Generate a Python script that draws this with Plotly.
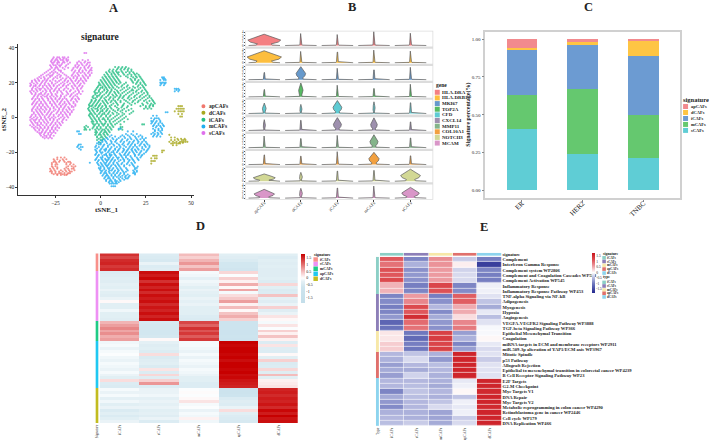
import plotly.graph_objects as go

W, H = 709, 440
SERIF = "Liberation Serif"
INK = "#222222"

# ---------- A: tSNE embedding, stored as {tSNE_2: [tSNE_1, ...]} rows per cluster ----------
AP_ROWS = {
    -23: [-24, -22, -20], -24: [-26, -24, -21, -19], -25.5: [-26, -25, -23, -20, -18, -17],
    -27: [-27, -25, -24, -19, -17, -15], -28: [-27, -25, -18, -16, -14], -29.5: [-28, -26, -24, -20, -18, -16, -15],
    -31: [-28, -27, -25, -23, -21, -19, -17, -16], -32: [-27, -25, -23, -22, -20, -18, -17], -33: [-24, -22, -20, -19],
    -24.7: [-25.5, -22.5, -20.5], -26.2: [-27, -24.5, -19, -16.5], -28.7: [-26.5, -24, -19, -15],
    -30.3: [-27.5, -25.5, -22, -19.5, -17.5, -14.5], -32.6: [-26, -24, -21, -18.5],
}
D_ROWS = {
    6.5: [43, 44, 45], 5: [42, 43, 44, 45, 46], 3.5: [41, 43, 44, 45, 46], 2: [43, 45], 0.5: [44, 45],
    -10: [38], -11.5: [39, 41], -13: [39, 41, 43, 45, 46, 47], -14: [38, 40, 42, 44, 45, 46, 47, 48],
    -15: [39, 40, 42, 43, 44], -16: [40, 42], -12.3: [42.5, 44.5, 46.5], -14.6: [41, 43.5, 45.5],
    -19: [34, 35], -20: [34], -22: [29, 30, 31], -23.5: [28, 30, 31], -25: [28, 29, 30], -26.5: [28],
}
I_ROWS = {
    29: [8, 10, 12, 14], 27.5: [5, 7, 9, 11, 13, 15, 17], 26: [3, 5, 7, 9, 10, 12, 14, 16, 18],
    24.5: [2, 4, 6, 8, 10, 13, 15, 17, 19, 21], 23: [1, 3, 5, 7, 9, 15, 18, 20, 22],
    21.5: [0, 2, 4, 6, 8, 10, 17, 19, 21, 23], 20: [-1, 1, 3, 5, 7, 9, 11, 14, 18, 20, 22, 24],
    18.5: [-1, 0, 2, 4, 6, 8, 12, 15, 21, 23, 25], 17: [-2, 0, 1, 3, 5, 7, 10, 13, 16, 19, 22, 24],
    15.5: [-3, -1, 2, 4, 6, 9, 11, 14, 17, 18, 20, 23, 25], 14: [-3, -2, 0, 3, 5, 8, 10, 12, 15, 18, 21, 24, 26],
    12.5: [-4, -2, -1, 1, 4, 7, 9, 11, 13, 16, 19, 22, 25, 27], 11: [-4, -3, 0, 2, 5, 7, 10, 12, 15, 17, 20, 23, 26, 28],
    9.5: [-5, -3, -1, 1, 3, 6, 8, 11, 14, 18, 21, 24, 27, 29], 8: [-6, -4, -2, 0, 2, 4, 7, 9, 13, 16, 19, 23, 26, 28, 30],
    6.5: [-6, -5, -3, -1, 1, 3, 5, 8, 12, 15, 22, 25, 27, 29], 5: [-7, -5, -3, -2, 0, 2, 4, 6, 10, 13, 17, 24, 26, 28],
    3.5: [-6, -4, -2, 0, 1, 3, 5, 8, 11, 14, 18],
    2: [-6, -5, -3, -1, 1, 2, 4, 7, 10, 13, 16], 0.5: [-6, -4, -2, 0, 3, 5, 8, 11, 14],
    -1: [-5, -3, -1, 1, 2, 4, 6, 9, 12, 15], -2.5: [-5, -4, -2, 0, 3, 5, 7, 10, 13], -4: [-4, -3, -1, 1, 2, 4, 6, 8, 11, 23, 24],
    -5.5: [-9, -7, -4, -2, 0, 3, 5, 7, 11, 12], -7: [-9, -8, -6, -3, -1, 1, 2, 4, 6, 10, 12], -8.5: [-3, -2, 0, 2, 3, 5],
    -10: [-3, -1, 0, 2, 4], -11.5: [-2, 0, 1, 3], -13: [-2, 0, 1], -14.5: [-1, 0],
}
I_ROWS_FILL = {
    28.2: [9.5, 11.5, 13.5, 15.5], 26.7: [4.5, 6.5, 8.5, 11.5, 15, 17], 25.2: [3.5, 6, 7.5, 9.5, 12.5, 16, 18.5, 20],
    23.7: [2.5, 4.5, 6.5, 8.5, 11, 14, 17, 19.5, 21.5], 22.2: [1.5, 3.5, 5.5, 7.5, 9.5, 16.5, 19, 22.5],
    20.7: [0.5, 2.5, 4.5, 6.5, 8.5, 10.5, 17.5, 20.5, 23.5], 19.2: [-0.5, 1.5, 3.5, 5.5, 7.5, 10, 13, 19.5, 22, 24.5],
    17.7: [-1.5, 1, 2.5, 4.5, 6.5, 9, 11.5, 14.5, 18, 20.5, 23.5], 16.2: [-2.5, -0.5, 2, 3.5, 6, 8, 12, 15, 17.5, 21, 24.5],
    14.7: [-3.5, -1, 1, 3.5, 5.5, 7.5, 9.5, 13, 16, 19.5, 22.5, 25.5], 13.2: [-3, -0.5, 2, 4.5, 6.5, 8.5, 11, 14, 17, 20, 23, 26],
    11.7: [-4.5, -2, 0.5, 3, 5.5, 8, 10.5, 12.5, 15.5, 18.5, 21.5, 24, 27], 10.2: [-5, -2.5, -0.5, 2.5, 4.5, 7, 9.5, 13, 16, 19, 22, 25, 28.5],
    8.7: [-5.5, -3.5, -1.5, 1.5, 3.5, 5.5, 8.5, 11, 15, 17.5, 20.5, 25.5, 29.5], 7.2: [-6.5, -4.5, -2.5, -0.5, 2.5, 6, 9.5, 12.5, 17, 23.5, 27.5, 29],
    5.7: [-6.5, -4, -1.5, 0.5, 3, 5.5, 9, 11.5, 14.5, 25, 27], 4.2: [-6.5, -4.5, -1.5, 1, 3.5, 7, 9.5, 12, 15.5],
    2.7: [-5.5, -3.5, -0.5, 2, 4.5, 6.5, 9, 12, 17], 1.2: [-6.5, -4.5, -2, 0.5, 3, 5.5, 9, 12],
    -0.3: [-5.5, -3.5, -1, 1.5, 4, 7, 10, 13], -1.8: [-4.5, -2.5, -0.5, 2.5, 5, 8, 11], -3.3: [-4.5, -2, 0.5, 2.5, 5.5, 9],
    -4.8: [-8, -3.5, -1, 1.5, 4, 6.5], -6.3: [-8.5, -4.5, -2, 0, 3, 5.5, 11], -7.8: [-2.5, 0.5, 2.5, 4.5],
    -9.3: [-2.5, -0.5, 1.5, 3.5], -10.8: [-2, 0.5, 2.5], -12.3: [-1, 1.5],
}
M_ROWS = {
    23: [34, 35], 21.5: [33, 35, 36], 20: [33, 34, 35, 36], 18.5: [33, 35], 16.5: [41, 42, 43], 15: [41, 43],
    3: [36, 37], 1: [29, 31], -0.5: [28, 30, 31, 32], -2: [28, 29, 31, 33], -3.5: [28, 30, 32, 34], -5: [29, 31, 33, 35],
    -6.5: [10, 11, 29, 32, 34], -8: [-13, -12, 15, 18, 30, 33], -9.5: [-12, -11, 14, 17, 20, 28, 30, 32, 34],
    -11: [5, 8, 11, 13, 16, 19, 21, 23, 29, 31, 33], -12.5: [2, 4, 7, 9, 12, 15, 17, 20, 22, 24],
    -14: [-1, 1, 3, 6, 8, 11, 13, 16, 18, 21, 23, 25], -15.5: [-12, -11, -1, 0, 2, 5, 7, 10, 12, 15, 17, 19, 22, 24, 26],
    -17: [-13, -11, -10, -3, -1, 1, 4, 6, 9, 11, 14, 16, 18, 20, 23, 25, 27], -18.5: [-11, -3, 0, 2, 3, 5, 8, 10, 13, 15, 17, 19, 21, 24, 26],
    -20: [-2, 0, 1, 4, 6, 7, 9, 12, 14, 16, 18, 20, 22, 25], -21.5: [-3, -1, 2, 3, 5, 6, 8, 11, 13, 15, 19, 21, 23],
    -23: [-2, 0, 1, 4, 5, 7, 9, 10, 12, 14, 17, 20, 22], -24.5: [-3, -1, 1, 3, 4, 6, 8, 11, 13, 16, 18, 21],
    -26: [-6, -2, 0, 2, 3, 5, 7, 9, 12, 15, 17, 19], -27.5: [-1, 1, 3, 4, 6, 8, 10, 13, 16, 18], -29: [-1, 0, 2, 4, 5, 7, 9, 11, 14, 19, 20],
    -30.5: [0, 1, 3, 5, 6, 8, 10, 12, 15, 18, 20], -32: [0, 2, 3, 5, 7, 9, 11, 13, 18, 19], -33.5: [1, 3, 4, 6, 8, 10, 12, 14, 16],
    -35: [2, 4, 5, 7, 10, 12, 14, 15], -36.5: [3, 5, 6, 8, 9, 11], -38: [5, 6, 7, 8, 9], -39.5: [6, 7, 8],
}
M_ROWS_FILL = {
    22.2: [34.5, 35.5], 19.3: [33.5, 35.5], 15.8: [42, 43.5], -1.2: [29.5, 32.5], -2.8: [28.5, 30.5, 33],
    -4.3: [29.5, 32, 34.5], -5.8: [30.5, 33.5], -7.3: [30, 32, 34], -8.8: [29, 31.5, 33.5], -10.2: [6, 12, 15, 18, 22, 29.5, 31.5],
    -11.8: [3.5, 6.5, 10, 13.5, 16.5, 19.5, 23, 25], -13.3: [0.5, 2.5, 5.5, 8.5, 11.5, 14.5, 18.5, 20.5, 24],
    -14.8: [-2, 0, 3.5, 6, 9, 12.5, 15.5, 17.5, 20.5, 22.5, 25.5], -16.2: [-12.5, -2.5, 1.5, 4, 7.5, 10.5, 13, 16.5, 19, 21.5, 24.5, 27],
    -17.8: [-12, -2, 0.5, 3, 5.5, 8, 10.5, 12.5, 15.5, 17.5, 20.5, 23, 26.5], -19.2: [-2.5, -0.5, 2.5, 4.5, 7, 9.5, 12.5, 14.5, 17.5, 19.5, 22.5, 25.5],
    -20.8: [-2.5, 0.5, 3, 5, 7.5, 10.5, 13.5, 15.5, 18.5, 21.5, 24],
    -22.2: [-1.5, 1, 3.5, 5.5, 8.5, 11.5, 14, 16.5, 19, 22.5], -23.8: [-2.5, 0.5, 2.5, 4.5, 6.5, 9.5, 12.5, 15, 17.5, 20.5],
    -25.2: [-1.5, 1.5, 3.5, 5.5, 7.5, 10, 13, 15.5, 18.5], -26.8: [-1.5, 0.5, 2.5, 4.5, 7, 9.5, 11.5, 14.5, 17.5],
    -28.2: [0, 1.5, 3.5, 5.5, 8.5, 10.5, 13, 18.5, 20.5], -29.8: [-0.5, 2, 4.5, 6.5, 9.5, 11.5, 14.5, 19],
    -31.2: [0.5, 2.5, 4.5, 7.5, 9.5, 12.5, 14, 18.5, 20], -32.8: [1.5, 3.5, 6, 8, 10.5, 13, 15, 19],
    -34.2: [2.5, 4.5, 7, 9, 11, 13.5, 15.5], -35.8: [3, 5.5, 8, 10.5, 13], -37.2: [4.5, 6.5, 8.5, 10],
}
S_ROWS = {
    37: [-9, -8], 34.5: [-26, -24, -23, -21, -20, -18], 33: [-27, -25, -24, -22, -21, -19, -18, -10, -7],
    31.5: [-27, -26, -24, -23, -21, -20, -17, -13, -11, -9, -7, -6], 30: [-28, -26, -25, -23, -22, -19, -14, -12, -10, -8, -6],
    28.5: [-27, -25, -24, -21, -18, -15, -13, -11, -9, -7, -5], 27: [-29, -26, -23, -22, -16, -14, -12, -10, -8, -6, -5],
    25.5: [-31, -28, -26, -24, -21, -15, -13, -11, -9, -7, -5], 24: [-33, -30, -28, -27, -24, -22, -19, -16, -14, -12, -10, -8, -6],
    22.5: [-35, -33, -31, -29, -26, -24, -21, -19, -17, -15, -13, -11, -9, -7],
    21: [-38, -36, -34, -32, -30, -28, -25, -23, -20, -18, -16, -14, -12, -10, -8],
    19.5: [-39, -37, -35, -33, -31, -29, -27, -25, -22, -20, -17, -15, -13, -11, -9],
    18: [-39, -37, -36, -34, -32, -30, -28, -26, -24, -21, -19, -16, -14, -12, -10],
    16.5: [-38, -36, -34, -33, -31, -29, -27, -25, -23, -20, -18, -15, -13, -11],
    15: [-39, -37, -35, -32, -30, -28, -26, -24, -22, -19, -17, -14, -12, -10],
    13.5: [-38, -36, -34, -33, -31, -29, -27, -25, -21, -18, -16, -13, -11],
    12: [-37, -35, -33, -31, -30, -28, -26, -24, -22, -20, -17, -15, -13],
    10.5: [-38, -36, -34, -32, -29, -27, -25, -23, -21, -19, -16, -14, -12],
    9: [-37, -35, -33, -31, -28, -26, -24, -22, -20, -18, -15, -13],
    7.5: [-38, -36, -34, -32, -30, -27, -25, -23, -21, -19, -17, -14],
    6: [-37, -35, -33, -31, -29, -26, -24, -22, -20, -18, -16, -15],
    4.5: [-38, -36, -34, -32, -30, -28, -25, -23, -21, -19, -17, -15],
    3: [-37, -35, -33, -31, -29, -27, -24, -22, -20, -18, -16],
    1.5: [-38, -36, -34, -32, -30, -28, -26, -23, -21, -19, -17],
    0: [-39, -37, -35, -33, -31, -29, -27, -25, -22, -20, -18],
    -1.5: [-39, -37, -36, -34, -32, -30, -28, -26, -24, -21, -19],
    -3: [-38, -36, -35, -33, -31, -29, -27, -25, -23, -21],
    -4.5: [-39, -37, -35, -34, -32, -30, -28, -26, -24, -22],
    -6: [-37, -35, -33, -31, -29, -27, -25, -23],
    -7.5: [-36, -34, -32, -30, -28, -26, -24],
    -9: [-34, -33, -31, -29, -27, -25], -10.5: [-33, -31, -30, -28, -26], -12: [-31, -29, -27],
}
S_ROWS_FILL = {
    33.7: [-26.5, -24.5, -22.5, -20.5, -19], 32.2: [-27.5, -25.5, -23.5, -20.5, -18.5, -12, -8.5], 30.7: [-26.5, -24, -21.5, -18, -13, -10.5, -7.5],
    29.2: [-27.5, -24.5, -22.5, -19.5, -14, -12.5, -9, -6.5], 27.7: [-28, -25.5, -23.5, -20, -15.5, -11.5, -8.5, -5.5], 26.2: [-30, -27, -25, -22, -14.5, -12, -10, -6.5],
    24.7: [-32, -29, -26.5, -23, -20, -15.5, -12.5, -8.5, -6], 23.2: [-34, -31.5, -28, -25, -22.5, -18, -15, -13, -9.5, -7],
    21.7: [-36.5, -34.5, -31, -29.5, -26.5, -22, -19.5, -16.5, -13.5, -11, -8.5], 20.2: [-38, -35.5, -32.5, -30.5, -27, -24, -21, -18.5, -15.5, -12.5, -9.5],
    18.7: [-38.5, -36, -33.5, -31, -28.5, -26, -23, -20.5, -18, -14.5, -11.5], 17.2: [-37.5, -35, -32, -29.5, -27.5, -24.5, -22, -19, -15.5, -13, -10.5],
    15.7: [-38, -35.5, -33.5, -30.5, -28, -25.5, -23, -20.5, -16.5, -12.5], 14.2: [-38.5, -36, -33, -30.5, -27.5, -24, -21.5, -18.5, -15, -12],
    12.7: [-36.5, -34.5, -32, -29.5, -27, -24.5, -22, -19, -16.5, -14], 11.2: [-37.5, -35, -32.5, -29.5, -27.5, -25, -22.5, -20, -15.5, -12.5],
    9.7: [-36.5, -34, -31.5, -29, -26.5, -24, -21.5, -18.5, -16.5, -13.5], 8.2: [-37.5, -35.5, -33, -30.5, -28, -25.5, -22.5, -20, -17.5, -15],
    6.7: [-36.5, -34, -32, -29.5, -27, -24.5, -22, -19.5, -16, -14], 5.2: [-37.5, -35, -33, -30.5, -28, -26, -23, -20.5, -17.5],
    3.7: [-38, -35.5, -33.5, -31, -28.5, -26, -23.5, -21, -18.5, -16], 2.2: [-37, -34.5, -32.5, -29.5, -27.5, -24.5, -22, -19.5, -17],
    0.7: [-38.5, -36, -33.5, -31, -28.5, -26, -23.5, -21, -18.5], -0.8: [-38, -35.5, -33, -30.5, -28, -26, -23, -20.5],
    -2.3: [-38.5, -36.5, -34, -31.5, -29.5, -26.5, -24, -21.5], -3.8: [-37.5, -35, -33, -30, -27.5, -25, -22.5],
    -5.3: [-38, -36, -33.5, -31, -29, -26.5, -24], -6.8: [-36.5, -34, -32, -29.5, -27, -25], -8.3: [-35, -32.5, -30.5, -28, -26],
    -9.8: [-33.5, -31.5, -29, -27.5], -11.3: [-32, -30, -28],
}
CLUSTERS = ["apCAFs", "dCAFs", "iCAFs", "mCAFs", "sCAFs"]
CLUSTER_ROWS = [[AP_ROWS], [D_ROWS], [I_ROWS, I_ROWS_FILL], [M_ROWS, M_ROWS_FILL], [S_ROWS, S_ROWS_FILL]]
CLUSTER_COLORS = ["#F0786E", "#A8A81E", "#25BE84", "#22AEF0", "#DF70EC"]

# ---------- B: stacked violins, height and body half-width for each gene and cluster ----------
GENES = ["HLA-DRA", "HLA-DRB1", "MKI67", "TOP2A", "CFD", "CXCL14", "MMP11", "COL10A1", "NOTCH3", "MCAM"]
GENE_COLORS = ["#F47F82", "#FDBE3E", "#6699CC", "#57BB63", "#5FCBD3", "#9E90AE", "#84B48A", "#F2A03F", "#D2D895", "#D996C8"]
HLA_DRA_H, HLA_DRA_W = [3.4, 3.6, 3.3, 4.2, 3.7], [0.45, 0, 0, 0, 0]
HLA_DRB1_H, HLA_DRB1_W = [3.6, 3.4, 3.2, 3.8, 3.5], [0.47, 0, 0, 0, 0]
MKI67_H, MKI67_W = [2.2, 4.0, 3.5, 3.0, 3.8], [0, 0.13, 0, 0, 0]
TOP2A_H, TOP2A_W = [2.2, 4.2, 3.5, 2.5, 3.8], [0, 0.06, 0, 0, 0]
CFD_H, CFD_W = [3.2, 2.8, 4.0, 3.6, 3.3], [0.05, 0.03, 0.12, 0.03, 0]
CXCL14_H, CXCL14_W = [3.4, 3.2, 4.1, 4.0, 2.7], [0.03, 0, 0.11, 0.09, 0]
MMP11_H, MMP11_W = [3.6, 2.8, 3.8, 4.0, 3.0], [0, 0, 0, 0.11, 0]
COL10A1_H, COL10A1_W = [3.0, 2.6, 4.0, 3.8, 2.7], [0, 0, 0, 0.14, 0]
NOTCH3_H, NOTCH3_W = [2.3, 2.8, 3.2, 3.4, 3.8], [0.30, 0.04, 0, 0, 0.27]
MCAM_H, MCAM_W = [2.7, 3.0, 3.1, 3.7, 3.3], [0.28, 0.04, 0, 0, 0.24]
VIOLIN_H = [HLA_DRA_H, HLA_DRB1_H, MKI67_H, TOP2A_H, CFD_H, CXCL14_H, MMP11_H, COL10A1_H, NOTCH3_H, MCAM_H]
VIOLIN_W = [HLA_DRA_W, HLA_DRB1_W, MKI67_W, TOP2A_W, CFD_W, CXCL14_W, MMP11_W, COL10A1_W, NOTCH3_W, MCAM_W]
BODY_LEVELS = [0.04, 0.14, 0.3, 0.48, 0.7, 0.9, 1.0]
BODY_WIDTHS = [0.5, 0.42, 0.85, 1.0, 0.62, 0.2, 0.01]
SPIKE_LEVELS = [0.03, 0.1, 1.0]
SPIKE_WIDTHS = [0.04, 0.025, 0.006]
BASE_HALF_WIDTH = 0.43

# ---------- C: composition per subtype ----------
SUBTYPES = ["ER", "HER2", "TNBC"]
SIGNATURE_COLORS = ["#F28A8E", "#FEC544", "#6C9BD2", "#65C86F", "#5FCDD5"]
SHARE_S = [0.403, 0.243, 0.217]
SHARE_M = [0.229, 0.430, 0.283]
SHARE_I = [0.293, 0.290, 0.386]
SHARE_D = [0.014, 0.019, 0.105]
SHARE_AP = [0.061, 0.018, 0.009]

# ---------- D: marker heatmap, one block of rows per signature ----------
D_COLUMNS = ["iCAFs", "sCAFs", "mCAFs", "apCAFs", "dCAFs"]
D_BLOCKS = ["iCAFs", "sCAFs", "mCAFs", "apCAFs", "dCAFs"]
D_BLOCK_COLORS = ["#F8908A", "#EE90F4", "#1FCB86", "#20C8F2", "#C2BC20"]
D_VALUES_I = [
    [1.45, -0.4, 0.5, -0.3, -0.3], [1.3, -0.45, 0.35, -0.35, -0.4], [1.5, -0.5, 0.55, -0.45, -0.3],
    [1.55, -0.2, 0.75, -0.6, -0.35], [1.4, -0.4, 0.45, -0.6, -0.3], [1.5, -0.35, 0.7, -0.65, -0.35],
]
D_VALUES_S = [
    [-0.4, 1.7, -0.1, 0.3, -0.35], [-0.35, 1.6, -0.15, -0.05, -0.35], [-0.3, 1.75, -0.25, 0.35, -0.3],
    [-0.35, 1.45, -0.15, 0.1, -0.4], [-0.25, 1.7, -0.2, 0.6, 0.3], [-0.3, 1.55, -0.3, 0.05, -0.3],
    [-0.2, 1.7, -0.2, 0.65, -0.45], [-0.3, 1.5, -0.25, -0.1, -0.4], [-0.35, 1.7, -0.3, 0.25, 0.45],
    [-0.2, 1.6, -0.2, 0.4, -0.25], [0.05, 1.7, -0.25, 0.7, -0.35], [-0.3, 1.5, -0.2, 0.1, -0.2],
    [-0.3, 1.65, -0.3, 0.5, 0.35], [-0.15, 1.55, -0.3, 0.05, -0.35], [-0.3, 1.7, -0.3, 0.45, -0.2],
    [-0.3, 1.55, -0.4, 0.6, 0.2], [-0.35, 1.7, -0.45, 0.35, 0.05],
]
D_VALUES_M = [
    [0.55, -0.5, 1.3, -0.7, -0.1], [0.7, -0.55, 1.1, -0.75, 0.2], [0.85, -0.55, 1.45, -0.75, -0.05],
    [0.65, -0.6, 1.2, -0.8, 0.35], [0.8, -0.6, 1.4, -0.8, 0.1], [0.6, -0.55, 1.15, -0.75, 0.45],
    [0.7, 0.05, 1.4, -0.8, 0.1],
]
D_VALUES_AP = [
    [-0.15, -0.25, -0.1, 1.8, -0.4], [-0.1, -0.35, -0.1, 1.75, 0.2], [-0.2, -0.3, -0.15, 1.8, -0.35],
    [-0.1, -0.4, -0.2, 1.8, -0.4], [-0.05, 0.25, -0.1, 1.75, 0.05], [-0.15, -0.45, -0.2, 1.8, -0.3],
    [-0.2, -0.35, -0.1, 1.7, 0.35], [-0.1, -0.3, -0.15, 1.8, -0.45], [-0.15, -0.45, -0.2, 1.8, -0.4],
    [-0.2, 0.2, -0.1, 1.75, 0.3], [-0.1, -0.4, -0.15, 1.8, -0.35], [-0.2, 0.3, -0.2, 1.7, 0.5],
    [-0.3, -0.35, -0.3, 1.75, -0.3], [0.25, 0.35, -0.3, 1.65, 0.1], [-0.4, 0.75, -0.4, 1.6, 0.15],
    [-0.45, -0.4, -0.4, 1.55, 0.2],
]
D_VALUES_D = [
    [-0.1, -0.2, -0.05, -0.8, 1.55], [-0.2, -0.2, 0.0, -0.85, 1.6], [-0.1, -0.15, -0.05, -0.75, 1.5],
    [-0.25, -0.25, 0.05, -0.45, 1.6], [-0.15, -0.2, 0.2, -0.35, 1.55], [-0.3, -0.25, -0.1, -0.4, 1.65],
    [-0.2, -0.2, -0.05, -0.2, 1.5], [-0.45, -0.3, -0.2, 0.25, 1.75], [-0.3, -0.25, -0.1, -0.3, 1.6],
    [-0.45, -0.35, -0.15, -0.4, 1.8], [-0.3, -0.2, 0.1, -0.45, 1.65], [-0.2, -0.4, -0.15, -0.5, 1.7],
]
D_BLOCK_VALUES = [D_VALUES_I, D_VALUES_S, D_VALUES_M, D_VALUES_AP, D_VALUES_D]

# ---------- E: pathway scores ----------
E_COLUMNS = ["iCAFs", "sCAFs", "mCAFs", "apCAFs", "dCAFs"]
E_COLORS = ["#8CCFC6", "#8D7FB8", "#F7E8A8", "#E0706C", "#8DD4EE"]
E_PATHWAYS = [
    "Complement", "Interferon Gamma Response", "Complement system WP2806",
    "Complement and Coagulation Cascades WP558", "Complement Activation WP545", "Inflammatory Response",
    "Inflammatory Response Pathway WP453", "TNF-alpha Signaling via NF-kB", "Adipogenesis", "Myogenesis",
    "Hypoxia", "Angiogenesis", "VEGFA-VEGFR2 Signaling Pathway WP3888", "TGF-beta Signaling Pathway WP366",
    "Epithelial Mesenchymal Transition", "Coagulation", "miRNA targets in ECM and membrane receptors WP2911",
    "miR-509-3p alteration of YAP1/ECM axis WP3967", "Mitotic Spindle", "p53 Pathway", "Allograft Rejection",
    "Epithelial to mesenchymal transition in colorectal cancer WP4239", "B Cell Receptor Signaling Pathway WP23",
    "E2F Targets", "G2-M Checkpoint", "Myc Targets V1", "DNA Repair", "Myc Targets V2",
    "Metabolic reprogramming in colon cancer WP4290", "Retinoblastoma gene in cancer WP2446",
    "Cell cycle WP179", "DNA Replication WP466",
]
E_ROW_GROUP = [0] * 7 + [1] * 7 + [2] * 4 + [3] * 5 + [4] * 9
E_VALUES = [
    [1.1, -0.9, 0.7, -0.35, -0.95], [0.9, -0.55, 0.65, 0.1, -1.6], [1.15, -0.8, 0.6, -0.3, -0.9],
    [1.1, -0.75, 0.6, -0.25, -0.95], [1.2, -0.8, 0.6, -0.25, -0.95], [0.45, -0.95, 1.25, -0.9, -0.1],
    [0.45, -0.9, 1.15, -0.85, -0.1], [-0.9, 0.6, -0.95, 1.05, -0.2], [-0.85, 0.75, -0.8, 1.05, -0.4],
    [-0.95, 1.2, -0.5, 0.5, -0.6], [-0.9, 1.1, -0.85, 0.5, -0.15], [-0.75, 1.5, -0.6, 0.2, -0.45],
    [-1.2, 0.95, -0.75, 0.75, -0.2], [-1.05, 0.9, -0.8, 0.85, -0.05], [0.15, -1.0, 1.3, -0.7, -0.05],
    [0.15, -1.15, 1.35, -0.55, 0.05], [0.3, -0.95, 1.25, -0.9, -0.15], [0.3, -1.0, 1.3, -0.7, -0.25],
    [-0.5, -0.4, -0.55, 1.6, -0.2], [-0.55, -0.25, -0.75, 1.6, -0.35], [-0.7, -0.5, -0.45, 1.6, -0.2],
    [-0.6, -0.6, -0.5, 1.6, -0.2], [-0.7, -0.3, -0.55, 1.6, -0.2], [-0.5, -0.5, -0.55, -0.15, 1.6],
    [-0.5, -0.45, -0.6, -0.1, 1.6], [-0.9, -0.4, -0.5, 0.05, 1.55], [-0.6, -0.45, -0.55, -0.4, 1.6],
    [-0.75, -0.5, -0.4, -0.1, 1.6], [-0.85, -0.5, -0.25, -0.15, 1.55], [-0.55, -0.55, -0.65, -0.1, 1.6],
    [-0.5, -0.55, -0.65, -0.35, 1.6], [-0.45, -0.35, -0.6, -0.25, 1.6],
]


def xdom(left, right):
    return [left / W, right / W]


def ydom(top, bottom):
    return [1 - bottom / H, 1 - top / H]


def serif(size, color=INK):
    return dict(family=SERIF, size=size, color=color)


fig = go.Figure()
layout = {}
shapes = []
annotations = []


def axes(n, x_domain, y_domain, xopts=None, yopts=None):
    suffix = "" if n == 1 else str(n)
    base = dict(showgrid=False, zeroline=False, ticks="", showticklabels=False)
    layout[f"xaxis{suffix}"] = {**base, "domain": x_domain, "anchor": f"y{suffix}", **(xopts or {})}
    layout[f"yaxis{suffix}"] = {**base, "domain": y_domain, "anchor": f"x{suffix}", **(yopts or {})}
    return f"x{suffix}", f"y{suffix}"


def text(x, y, label, size, anchor="left", angle=0, bold=True):
    annotations.append(dict(
        x=x / W, y=1 - y / H, xref="paper", yref="paper", showarrow=False, text=f"<b>{label}</b>" if bold else label,
        font=serif(size), xanchor=anchor, yanchor="middle", textangle=angle, borderpad=0,
    ))


def key(x, ys, size, colors, labels, font_size, shape="rect", gap=1.0):
    for y, color, label in zip(ys, colors, labels):
        shapes.append(dict(
            type=shape, xref="paper", yref="paper", line_width=0, fillcolor=color,
            x0=x / W, x1=(x + size) / W, y0=1 - (y + size / 2) / H, y1=1 - (y - size / 2) / H,
        ))
        text(x + size + gap, y, label, font_size)


for letter, lx, ly in [("A", 113, 7), ("B", 351.5, 6), ("C", 589, 6.5), ("D", 200, 226), ("E", 484, 227)]:
    text(lx, ly, letter, 12.5, anchor="center")

# ---- panel A ----
line_a = dict(showline=True, linecolor="#333333", linewidth=1, ticks="outside", ticklen=2, tickcolor="#333333",
              showticklabels=True, tickfont=serif(5.5))
xa, ya = axes(1, xdom(17.5, 194), ydom(43, 195),
              {**line_a, "range": [-45.5, 51.9], "tickvals": [-25, 0, 25, 50],
               "title": dict(text="<b>tSNE_1</b>", font=serif(7), standoff=1)},
              {**line_a, "range": [-44.6, 42.3], "tickvals": [-40, -20, 0, 20, 40],
               "title": dict(text="<b>tSNE_2</b>", font=serif(7), standoff=1)})
for name, row_sets, color in zip(CLUSTERS, CLUSTER_ROWS, CLUSTER_COLORS):
    xs = [v for rows in row_sets for row in rows.values() for v in row]
    ys = [y for rows in row_sets for y, row in rows.items() for _ in row]
    fig.add_trace(go.Scatter(x=xs, y=ys, mode="markers", name=name, showlegend=False, xaxis=xa, yaxis=ya,
                             marker=dict(size=2.1, color=color, opacity=0.8, line_width=0)))
text(99, 36, "signature", 9.5, anchor="center")
key(201, [105.7, 112.3, 119.3, 126, 132.7], 4, CLUSTER_COLORS, CLUSTERS, 5.5, shape="circle", gap=2.5)

# ---- panel B ----
ROW_TOPS = [30.7, 48, 65.3, 82.3, 99.3, 116.7, 133.7, 150.7, 167.7, 184.3]
ROW_BOTTOMS = [45.7, 63, 80, 97.3, 114, 131, 148.3, 165.3, 182, 199]
shapes.append(dict(type="rect", xref="paper", yref="paper", layer="below", line_width=0, fillcolor="#DCDCDC",
                   x0=245 / W, x1=433.5 / W, y0=1 - 199.7 / H, y1=1 - 30 / H))
for r, gene in enumerate(GENES):
    shapes.append(dict(type="rect", xref="paper", yref="paper", layer="below", line_width=0, fillcolor="white",
                       x0=245.7 / W, x1=432.7 / W, y0=1 - ROW_BOTTOMS[r] / H, y1=1 - ROW_TOPS[r] / H))
    bottom_row = r == len(GENES) - 1
    xopts = dict(range=[0.5, 5.6], tickvals=[1, 2, 3, 4, 5])
    if bottom_row:
        xopts.update(ticktext=CLUSTERS, showticklabels=True, tickangle=-45, tickfont=serif(4.5),
                     ticks="outside", ticklen=1.5, tickwidth=0.5, ticklabelstandoff=-3)
    xv, yv = axes(2 + r, xdom(245.7, 432.7), ydom(ROW_TOPS[r], ROW_BOTTOMS[r]), xopts,
                  dict(range=[-0.3, 4.2], tickvals=[0, 1, 2, 3, 4], showticklabels=True, tickfont=serif(3),
                       ticks="outside", ticklen=1, tickwidth=0.4, tickcolor="#555555"))
    for c in range(5):
        h, w = VIOLIN_H[r][c], VIOLIN_W[r][c]
        if w > 0:
            levels, half = BODY_LEVELS, [f * w for f in BODY_WIDTHS]
        else:
            levels, half = SPIKE_LEVELS, SPIKE_WIDTHS
        right = [c + 1 + BASE_HALF_WIDTH] + [c + 1 + d for d in half]
        left = [c + 1 - d for d in reversed(half)] + [c + 1 - BASE_HALF_WIDTH]
        heights = [0] + [lv * h for lv in levels]
        fig.add_trace(go.Scatter(
            x=right + left, y=heights + heights[::-1], mode="lines", fill="toself", fillcolor=GENE_COLORS[r],
            line=dict(color="#5A5A5A", width=0.7), xaxis=xv, yaxis=yv, showlegend=False, name=gene,
        ))
text(435, 84, "gene", 5.5)
key(435, [91.7 + 5.67 * i for i in range(10)], 5, GENE_COLORS, GENES, 5, gap=1.5)

# ---- panel C ----
xc, yc = axes(12, xdom(485.7, 680.7), ydom(30.7, 197.7),
              dict(range=[-0.6, 2.6], tickvals=[0, 1, 2], ticktext=SUBTYPES, showticklabels=True, tickangle=-45,
                   tickfont=serif(7), showline=True, mirror=True, linecolor="#D0D0D0", linewidth=1.5,
                   ticks="outside", ticklen=2, tickcolor="#888888", ticklabelstandoff=-5),
              dict(range=[-0.049, 1.05], tickvals=[0, 0.25, 0.5, 0.75, 1], ticktext=["0.00", "0.25", "0.50", "0.75", "1.00"],
                   showticklabels=True, tickfont=serif(5), showline=True, mirror=True, linecolor="#D0D0D0", linewidth=1.5,
                   ticks="outside", ticklen=2, tickcolor="#888888",
                   title=dict(text="<b>Signature percentage(%)</b>", font=serif(6), standoff=1)))
for name, share, color in zip(["sCAFs", "mCAFs", "iCAFs", "dCAFs", "apCAFs"],
                              [SHARE_S, SHARE_M, SHARE_I, SHARE_D, SHARE_AP], SIGNATURE_COLORS[::-1]):
    fig.add_trace(go.Bar(x=[0, 1, 2], y=share, name=name, width=0.5, marker=dict(color=color, line_width=0),
                         xaxis=xc, yaxis=yc, showlegend=False))
text(683, 99, "signature", 6.5)
key(684, [106, 112, 118, 124, 130], 5, SIGNATURE_COLORS, CLUSTERS, 4.5, gap=1.5)

# ---- panel D ----
D_MATRIX = [row for block in D_BLOCK_VALUES for row in block]
D_GROUPS = [i for i, block in enumerate(D_BLOCK_VALUES) for _ in block]
D_ZMIN, D_ZMAX = -1.88, 1.8


def d_stop(v):
    return (v - D_ZMIN) / (D_ZMAX - D_ZMIN)


def discrete_scale(colors):
    n = len(colors)
    scale = []
    for i, color in enumerate(colors):
        scale += [[i / n, color], [(i + 1) / n, color]]
    return scale


xd, yd = axes(13, xdom(99, 298), ydom(253.5, 424),
              dict(range=[-0.5, 4.5], tickvals=list(range(5)), ticktext=D_COLUMNS, showticklabels=True,
                   tickangle=-90, tickfont=serif(3.8)),
              dict(range=[len(D_MATRIX) - 0.5, -0.5]))
fig.add_trace(go.Heatmap(
    z=D_MATRIX, xaxis=xd, yaxis=yd, zmin=D_ZMIN, zmax=D_ZMAX, name="markers",
    colorscale=[[0, "#C3DEEA"], [d_stop(-0.7), "#CDE4EE"], [d_stop(-0.25), "#E4F0F5"], [d_stop(-0.05), "#FBFDFE"],
                [d_stop(0.05), "#FEF8F8"], [d_stop(0.5), "#F3BCBC"], [d_stop(1), "#E27070"], [1, "#C70000"]],
    colorbar=dict(x=300.7 / W, xanchor="left", y=1 - 254 / H, yanchor="top", len=48.7, lenmode="pixels", thickness=3.5,
                  thicknessmode="pixels", xpad=0, ypad=0, outlinewidth=0, ticklen=0, tickfont=serif(4),
                  tickvals=[-1.5, -1, -0.5, 0, 0.5, 1, 1.5], ticktext=["-1.5", "-1", "-0.5", "0", "0.5", "1", "1.5"]),
))
xda, yda = axes(14, xdom(94.7, 98), ydom(253.5, 424),
                dict(range=[-0.5, 0.5], tickvals=[0], ticktext=["Signature"], showticklabels=True, tickangle=-90,
                     tickfont=serif(3.5)),
                dict(range=[len(D_MATRIX) - 0.5, -0.5]))
fig.add_trace(go.Heatmap(z=[[g] for g in D_GROUPS], xaxis=xda, yaxis=yda, zmin=-0.5, zmax=4.5, showscale=False,
                         colorscale=discrete_scale(D_BLOCK_COLORS), name="Signature"))
text(313, 255, "signature", 4.2)
key(313.3, [259.7, 264.3, 269, 274, 279], 4.5, D_BLOCK_COLORS, D_BLOCKS, 3.8, gap=0.6)

# ---- panel E ----
E_ZMIN, E_ZMAX = -1.84, 1.77


def e_stop(v):
    return (v - E_ZMIN) / (E_ZMAX - E_ZMIN)


xe, ye = axes(15, xdom(380, 502), ydom(257, 427),
              dict(range=[-0.5, 4.5], tickvals=list(range(5)), ticktext=E_COLUMNS, showticklabels=True,
                   tickangle=-90, tickfont=serif(3.8)),
              dict(range=[len(E_VALUES) - 0.5, -0.5], side="right", tickvals=list(range(len(E_PATHWAYS))),
                   ticktext=[f"<b>{p}</b>" for p in E_PATHWAYS], showticklabels=True, tickfont=serif(4.6)))
fig.add_trace(go.Heatmap(
    z=E_VALUES, xaxis=xe, yaxis=ye, zmin=E_ZMIN, zmax=E_ZMAX, xgap=0.6, ygap=0.6, name="pathways",
    colorscale=[[0, "#23288F"], [e_stop(-1), "#6F78BE"], [e_stop(-0.4), "#C0C4E4"], [e_stop(0), "#FFFFFF"],
                [e_stop(0.6), "#EC9AA0"], [e_stop(1.2), "#DC4A4E"], [1, "#C8141C"]],
    colorbar=dict(x=592.3 / W, xanchor="left", y=1 - 253 / H, yanchor="top", len=39.7, lenmode="pixels", thickness=3,
                  thicknessmode="pixels", xpad=0, ypad=0, outlinewidth=0, ticklen=0, tickfont=serif(3.6),
                  tickvals=[-1.5, -1, -0.5, 0, 0.5, 1, 1.5], ticktext=["-1.5", "-1", "-0.5", "0", "0.5", "1", "1.5"]),
))
xet, yet = axes(16, xdom(380, 502), ydom(253, 256),
                dict(range=[-0.5, 4.5]),
                dict(range=[-0.5, 0.5], side="right", tickvals=[0], ticktext=["<b>signature</b>"], showticklabels=True,
                     tickfont=serif(4.4)))
fig.add_trace(go.Heatmap(z=[[0, 1, 2, 3, 4]], xaxis=xet, yaxis=yet, zmin=-0.5, zmax=4.5, xgap=0.6, showscale=False,
                         colorscale=discrete_scale(E_COLORS), name="signature"))
xel, yel = axes(17, xdom(376, 379), ydom(257, 427),
                dict(range=[-0.5, 0.5], tickvals=[0], ticktext=["Type"], showticklabels=True, tickangle=-90,
                     tickfont=serif(3.5)),
                dict(range=[len(E_VALUES) - 0.5, -0.5]))
fig.add_trace(go.Heatmap(z=[[g] for g in E_ROW_GROUP], xaxis=xel, yaxis=yel, zmin=-0.5, zmax=4.5, showscale=False,
                         colorscale=discrete_scale(E_COLORS), name="type"))
text(603, 254, "signature", 3.8)
key(603, [258, 261.7, 265.7, 269.3, 273.3], 3.6, E_COLORS, E_COLUMNS, 3.2, gap=0.4)
text(603, 277.7, "type", 3.8)
key(603, [282.7, 286.3, 290.3, 293.7, 297.3], 3.6, E_COLORS, E_COLUMNS, 3.2, gap=0.4)

fig.update_layout(
    width=W, height=H, autosize=False, margin=dict(l=0, r=0, t=0, b=0), paper_bgcolor="white", plot_bgcolor="white",
    barmode="stack", showlegend=False, shapes=shapes, annotations=annotations, font=serif(6), **layout,
)
fig.write_html("out.html")
